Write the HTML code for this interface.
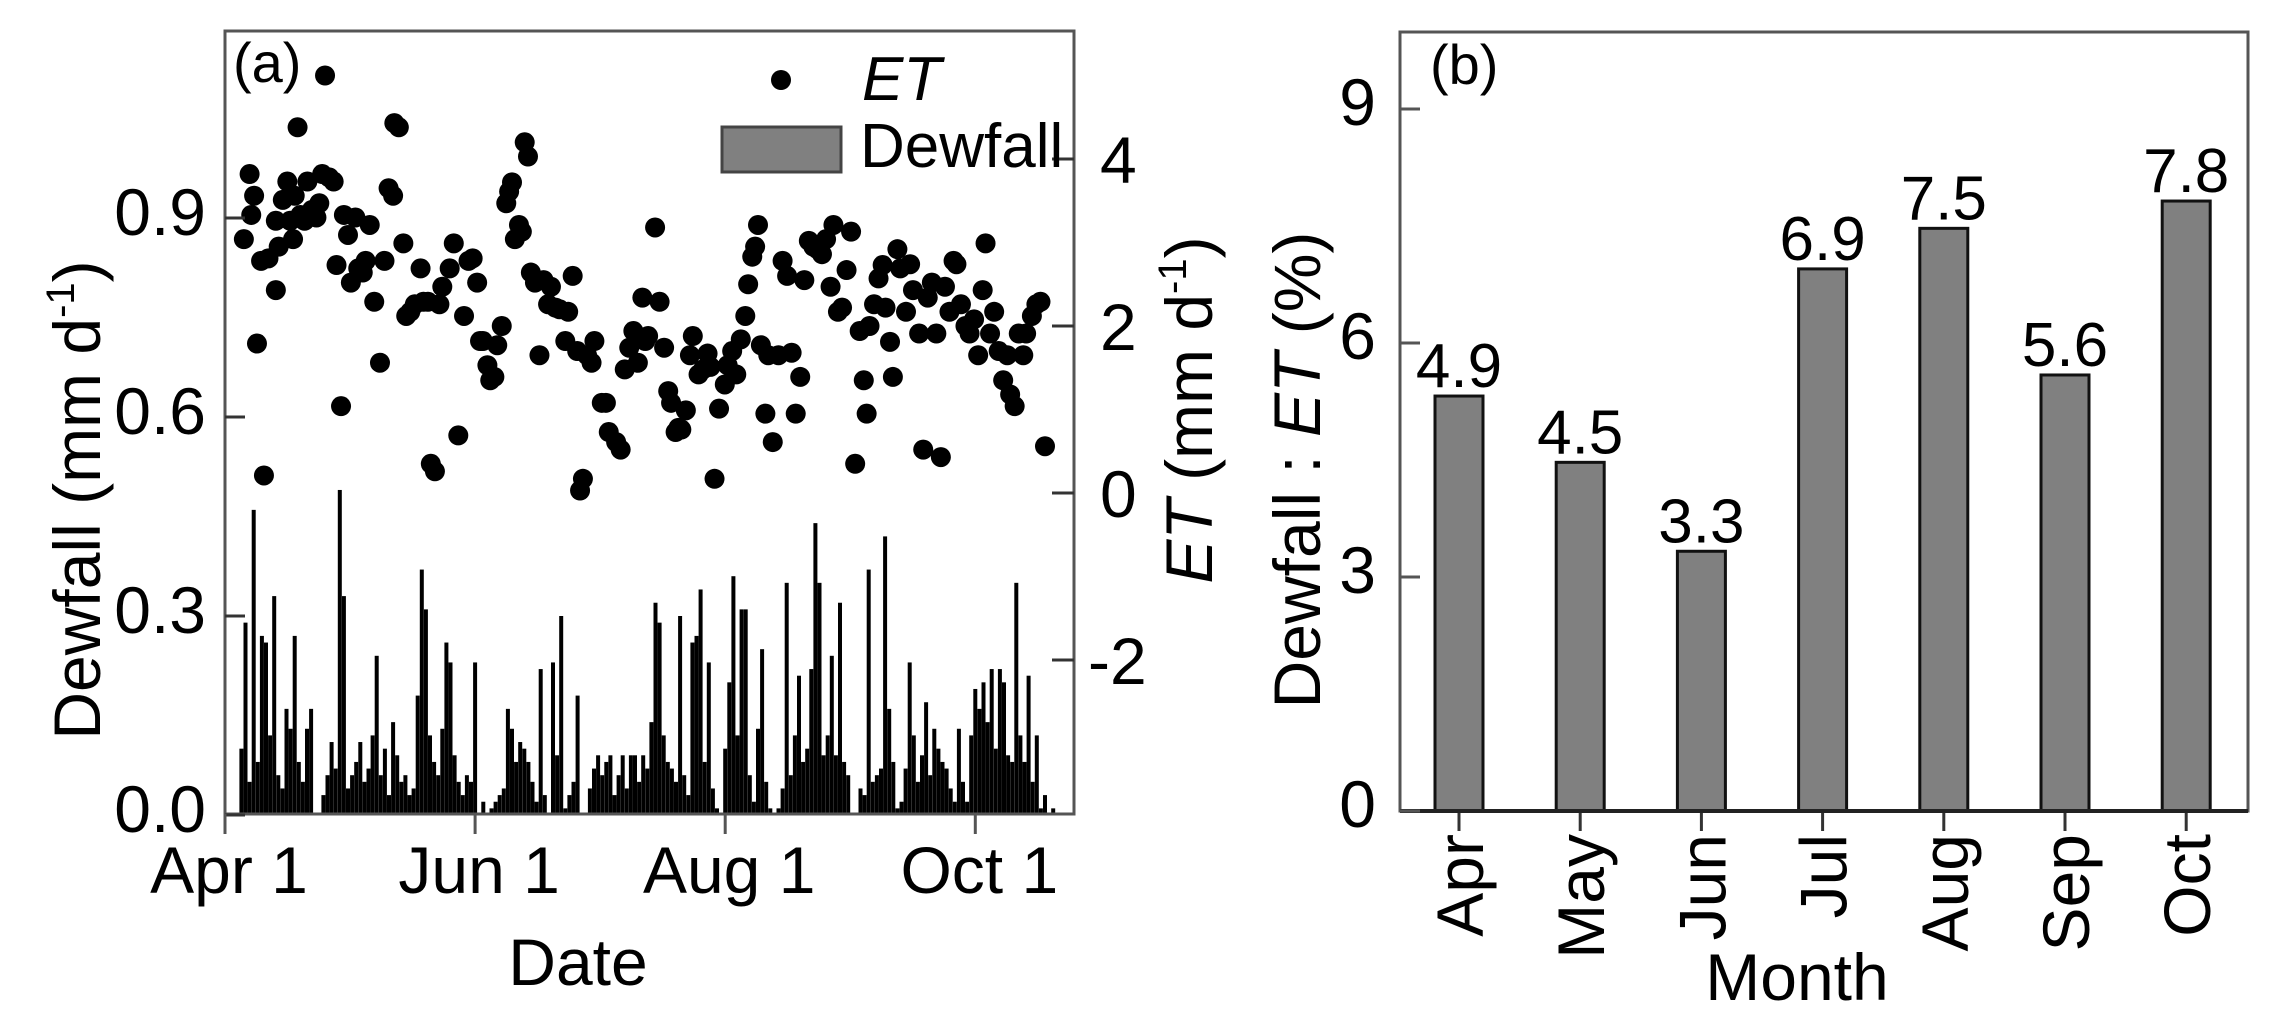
<!DOCTYPE html>
<html><head><meta charset="utf-8"><style>
html,body{margin:0;padding:0;background:#fff;}
svg{display:block;font-family:"Liberation Sans Narrow","Liberation Sans",Arial,sans-serif;}
</style></head><body>
<svg id="fig" width="2272" height="1026" viewBox="0 0 2272 1026" xmlns="http://www.w3.org/2000/svg">
<g id="pa"></g>
<g id="pb"></g>
</svg>
<script>
// ---------- Panel (a) data ----------
const dewfallValues = [0,0,0,0,0.1,0.29,0.05,0.46,0.08,0.27,0.26,0.12,0.33,0.06,0.04,0.16,0.13,0.27,0.08,0.05,0.13,0.16,0,0,0.03,0.06,0.11,0.07,0.49,0.33,0.04,0.06,0.08,0.11,0.05,0.07,0.12,0.24,0.06,0.1,0.03,0.14,0.09,0.05,0.06,0.03,0.04,0.18,0.37,0.31,0.12,0.08,0.06,0.13,0.26,0.23,0.09,0.05,0.03,0.06,0.05,0.23,0,0.02,0,0.01,0.02,0.03,0.04,0.16,0.13,0.08,0.11,0.1,0.08,0.05,0.02,0.22,0.03,0,0.23,0.09,0.30,0.01,0.03,0.05,0.18,0,0,0.04,0.07,0.09,0.06,0.08,0.09,0.03,0.06,0.09,0.04,0.09,0.09,0.05,0.09,0.07,0.14,0.32,0.29,0.12,0.08,0.07,0.05,0.30,0.06,0.03,0.26,0.27,0.34,0.08,0.23,0.04,0.01,0,0.1,0.2,0.36,0.12,0.31,0.31,0.06,0.02,0.13,0.25,0.05,0.01,0,0.01,0.04,0.35,0.06,0.12,0.21,0.08,0.1,0.22,0.44,0.35,0.09,0.12,0.24,0.09,0.32,0.08,0.06,0,0,0.04,0.03,0.37,0.05,0.06,0.07,0.42,0.16,0.08,0.01,0.02,0.07,0.23,0.12,0.05,0.09,0.17,0.06,0.13,0.1,0.08,0.07,0.04,0.02,0.13,0.05,0.02,0.12,0.19,0.16,0.20,0.14,0.22,0.1,0.22,0.2,0.09,0.08,0.35,0.12,0.08,0.21,0.05,0.12,0.01,0.03,0,0.01];
const etDays = [4.6,6.4,7.1,6.0,7.8,9.5,8.8,10.6,12.4,12.4,13.1,14.1,15.2,15.9,16.6,17.0,17.7,18.4,19.4,20.1,21.2,22.3,23.0,23.7,24.4,25.4,26.5,27.2,28.3,29.0,30.0,30.7,31.8,32.5,33.6,34.3,35.3,36.4,37.8,38.9,39.9,41.0,41.3,42.4,43.5,44.2,45.2,46.3,47.7,48.4,49.5,50.2,51.2,52.3,53.0,54.8,55.8,56.9,58.3,59.4,60.4,61.5,62.2,62.9,64.0,64.7,65.7,66.4,67.5,68.6,69.3,70.0,70.7,71.7,72.4,73.1,73.9,74.6,75.6,76.7,77.7,78.8,79.5,80.6,81.6,83.0,83.7,84.8,85.9,86.6,87.3,88.3,89.4,90.1,91.9,92.9,93.6,95.4,96.5,97.5,98.6,99.6,100.7,101.8,102.5,103.2,104.9,106.0,107.1,108.1,108.8,109.9,110.6,111.3,112.4,113.4,114.1,115.5,116.6,117.7,118.4,119.4,120.5,121.9,122.6,123.7,124.7,125.8,126.9,127.6,128.6,129.3,130.0,130.7,131.8,132.5,133.6,135.0,136.0,137.1,138.2,139.2,140.3,141.3,142.4,143.5,144.5,145.6,146.6,147.7,148.4,149.5,150.5,151.6,152.7,153.7,154.8,155.8,156.5,157.2,158.3,159.4,160.4,161.1,162.2,162.9,164.0,164.7,166.1,167.1,167.8,169.3,170.3,171.4,172.4,173.5,174.6,175.6,176.7,177.7,178.4,179.5,180.6,181.6,182.7,183.7,184.8,185.5,186.6,187.6,188.7,189.8,190.8,191.5,192.6,193.6,194.7,195.4,196.8,197.9,198.9,200.0];
const etValues = [3.04,3.33,3.56,3.82,1.79,0.21,2.78,2.81,3.26,2.43,2.95,3.51,3.73,3.26,3.04,3.56,4.38,3.33,3.26,3.73,3.39,3.30,3.47,3.82,5.00,3.78,3.73,2.73,1.04,3.33,3.09,2.52,3.30,2.69,2.64,2.78,3.21,2.29,1.56,2.78,3.65,3.56,4.43,4.38,2.99,2.12,2.17,2.26,2.69,2.29,2.29,0.35,0.26,2.26,2.47,2.69,2.99,0.69,2.12,2.78,2.81,2.52,1.82,1.82,1.53,1.35,1.39,1.77,2.00,3.47,3.61,3.72,3.04,3.21,3.13,4.20,4.03,2.64,2.52,1.65,2.55,2.26,2.47,2.22,2.20,1.82,2.17,2.60,1.70,0.03,0.17,1.65,1.56,1.82,1.08,1.08,0.73,0.61,0.52,1.48,1.74,1.94,1.56,2.34,1.82,1.88,3.18,2.29,1.74,1.22,1.08,0.73,0.78,0.76,0.99,1.65,1.88,1.42,1.48,1.67,1.51,0.17,1.01,1.30,1.53,1.70,1.42,1.84,2.12,2.50,2.83,2.95,3.21,1.77,0.95,1.65,0.61,1.65,2.78,2.60,1.68,0.95,1.39,2.55,3.02,2.95,2.92,2.86,3.04,2.47,3.21,2.17,2.22,2.67,3.13,0.35,1.94,1.35,0.95,2.00,2.26,2.57,2.73,2.22,1.81,1.39,2.92,2.69,2.17,2.74,2.43,1.91,0.52,2.34,2.52,1.91,0.43,2.47,2.17,2.78,2.74,2.26,2.00,1.91,2.08,1.65,2.43,2.99,1.91,2.17,1.70,1.35,1.65,1.18,1.04,1.91,1.65,1.91,2.12,2.26,2.29,0.56];
const dateTickDays = [0,61,122,183];
const dateTickLabels = ["Apr 1","Jun 1","Aug 1","Oct 1"];
const dewTicks = [0.0,0.3,0.6,0.9];
const etTicks = [-2,0,2,4];
// ---------- Panel (b) data ----------
const months = ["Apr","May","Jun","Jul","Aug","Sep","Oct"];
const ratioHeights = [5.32,4.47,3.33,6.95,7.47,5.59,7.82];
const ratioLabels = ["4.9","4.5","3.3","6.9","7.5","5.6","7.8"];
const ratioTicks = [0,3,6,9];

const NS="http://www.w3.org/2000/svg";
function mk(parent,tag,attrs,text){const e=document.createElementNS(NS,tag);for(const k in attrs)e.setAttribute(k,attrs[k]);if(text!==undefined)e.textContent=text;parent.appendChild(e);return e;}
function stat(parent,html){const g=document.createElementNS(NS,'g');g.innerHTML=html;parent.appendChild(g);return g;}

// ---------- Panel (a) ----------
const A={l:225,r:1074,t:31,b:814};
const xA=d=>225+d*4.1;
const yDew=v=>815-v*(199/0.3);
const yET=v=>493-v*83.5;
const pa=document.getElementById('pa');
dewfallValues.forEach((v,i)=>{ if(v<=0) return;
  const r=mk(pa,'rect',{x:xA(i)-2,y:yDew(v),width:4,height:yDew(0)-yDew(v),fill:'#000'});
  
  
});
etValues.forEach((v,i)=>{
  const c=mk(pa,'circle',{cx:xA(etDays[i]),cy:yET(v),r:10,fill:'#000'});
  
  
});
const frameA=mk(pa,'rect',{x:A.l,y:A.t,width:A.r-A.l,height:A.b-A.t,fill:'none',stroke:'#555','stroke-width':3});


dewTicks.forEach(v=>{
  mk(pa,'line',{x1:A.l,x2:A.l+20,y1:yDew(v),y2:yDew(v),stroke:'#333','stroke-width':3});
  const t=mk(pa,'text',{x:206,y:yDew(v)+17,'font-size':66,'text-anchor':'end'},v.toFixed(1));
  
  
});
etTicks.forEach(v=>{
  mk(pa,'line',{x1:A.r-22,x2:A.r,y1:yET(v),y2:yET(v),stroke:'#333','stroke-width':3});
  const t=mk(pa,'text',{x:v<0?1088:1100,y:yET(v)+24,'font-size':66},v<0?'-'+Math.abs(v):String(v));
  
  
});
dateTickDays.forEach((d,i)=>{
  mk(pa,'line',{x1:xA(d),x2:xA(d),y1:A.b,y2:A.b+20,stroke:'#555','stroke-width':3});
  const t=mk(pa,'text',{x:xA(d)+4,y:893,'font-size':66,'text-anchor':'middle'},dateTickLabels[i]);
  
  
});
stat(pa,`
<text x="233" y="82" font-size="56">(a)</text>
<circle cx="781" cy="80" r="10" fill="#000"/>
<text x="862" y="100" font-size="62" font-style="italic">ET</text>
<rect x="722" y="127" width="119" height="45" fill="#808080" stroke="#444" stroke-width="3"/>
<text x="860" y="167" font-size="62">Dewfall</text>
<text x="578" y="985" font-size="66" text-anchor="middle">Date</text>
<text transform="translate(100,500) rotate(-90)" font-size="66" text-anchor="middle">Dewfall (mm d<tspan font-size="40" dy="-26">-1</tspan><tspan dy="26">)</tspan></text>
<text transform="translate(1212,410) rotate(-90)" font-size="66" text-anchor="middle"><tspan font-style="italic">ET</tspan> (mm d<tspan font-size="40" dy="-26">-1</tspan><tspan dy="26">)</tspan></text>
`);

// ---------- Panel (b) ----------
const B={l:1400,r:2248,t:32,b:811};
const xB=i=>1459+i*121.2;
const yB=v=>811-v*78;
const pb=document.getElementById('pb');
ratioHeights.forEach((v,i)=>{
  const r=mk(pb,'rect',{x:xB(i)-24,y:yB(v),width:48,height:yB(0)-yB(v),fill:'#808080',stroke:'#111','stroke-width':3});
  
  
  const t=mk(pb,'text',{x:xB(i),y:yB(v)-9,'font-size':62,'text-anchor':'middle'},ratioLabels[i]);
  
  
  mk(pb,'line',{x1:xB(i),x2:xB(i),y1:B.b,y2:B.b+20,stroke:'#333','stroke-width':3});
  const m=mk(pb,'text',{transform:`translate(${xB(i)+24},834) rotate(-90)`,'font-size':66,'text-anchor':'end'},months[i]);
  
  
});
const frameB=mk(pb,'rect',{x:B.l,y:B.t,width:B.r-B.l,height:B.b-B.t,fill:'none',stroke:'#555','stroke-width':3});


mk(pb,'line',{x1:B.l,x2:B.r,y1:B.b,y2:B.b,stroke:'#222','stroke-width':4});
ratioTicks.forEach(v=>{
  mk(pb,'line',{x1:B.l,x2:B.l+20,y1:yB(v),y2:yB(v),stroke:'#555','stroke-width':3});
  const t=mk(pb,'text',{x:1376,y:yB(v)+16,'font-size':66,'text-anchor':'end'},String(v));
  
  
});
stat(pb,`
<text x="1430" y="84" font-size="56">(b)</text>
<text transform="translate(1320,470) rotate(-90)" font-size="66" text-anchor="middle">Dewfall : <tspan font-style="italic">ET</tspan> (%)</text>
<text x="1797" y="1000" font-size="66" text-anchor="middle">Month</text>
`);
</script>
</body></html>
